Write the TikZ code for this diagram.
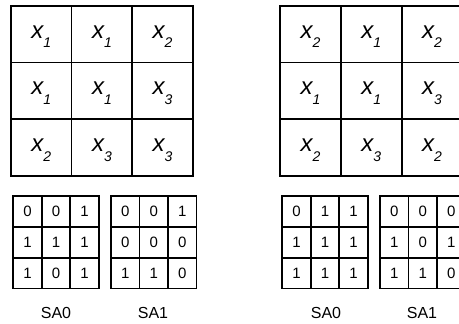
\documentclass[tikz,border=0pt]{standalone}
\usepackage{fontspec}
\setmainfont{Liberation Sans}
\newcommand{\xsub}[1]{{\fontsize{24}{24}\selectfont\itshape x\raisebox{-9.6pt}{\fontsize{14}{14}\selectfont #1}}}
\tikzset{
  bigcell/.style={draw, line width=1.7pt, minimum width=60.6pt, minimum height=56.6pt,
    inner sep=0pt, text height=16pt, text depth=8pt},
  smallcell/.style={draw, line width=1.8pt, minimum width=28.4pt, minimum height=30.8pt,
    inner sep=0pt, font=\fontsize{15}{15}\selectfont},
  salabel/.style={inner sep=0pt, font=\fontsize{16}{16}\selectfont}
}
\begin{document}
\begin{tikzpicture}[x=1pt,y=-1pt]
\useasboundingbox (0,0) rectangle (459,324);
\clip (0,0) rectangle (459,324);
% big left grid
\foreach \r/\row in {1/{1,1,2},2/{1,1,3},3/{2,3,3}}{
  \foreach \v [count=\c] in \row {
    \node[bigcell] (L\r\c) at ({11+60.6*(\c-0.5)},{6+56.6*(\r-0.5)}) {\xsub{\v}};
  }
}
% big right grid
\foreach \r/\row in {1/{2,1,2},2/{1,1,3},3/{2,3,2}}{
  \foreach \v [count=\c] in \row {
    \node[bigcell] (R\r\c) at ({280+60.8*(\c-0.5)},{6+56.6*(\r-0.5)}) {\xsub{\v}};
  }
}
% small grids
\foreach \name/\x/\vals in {la/13.3/{{0,0,1},{1,1,1},{1,0,1}},
                            lb/111/{{0,0,1},{0,0,0},{1,1,0}},
                            ra/282.3/{{0,1,1},{1,1,1},{1,1,1}},
                            rb/380/{{0,0,0},{1,0,1},{1,1,0}}}{
  \foreach \row [count=\r] in \vals {
    \foreach \v [count=\c] in \row {
      \node[smallcell] (\name\r\c) at ({\x+28.5*(\c-0.5)},{196+30.8*(\r-0.5)}) {\v};
    }
  }
}
\node[salabel] (sa0l) at (56,313) {SA0};
\node[salabel] (sa1l) at (153,313) {SA1};
\node[salabel] (sa0r) at (326,313) {SA0};
\node[salabel] (sa1r) at (422,313) {SA1};
\end{tikzpicture}
\end{document}
